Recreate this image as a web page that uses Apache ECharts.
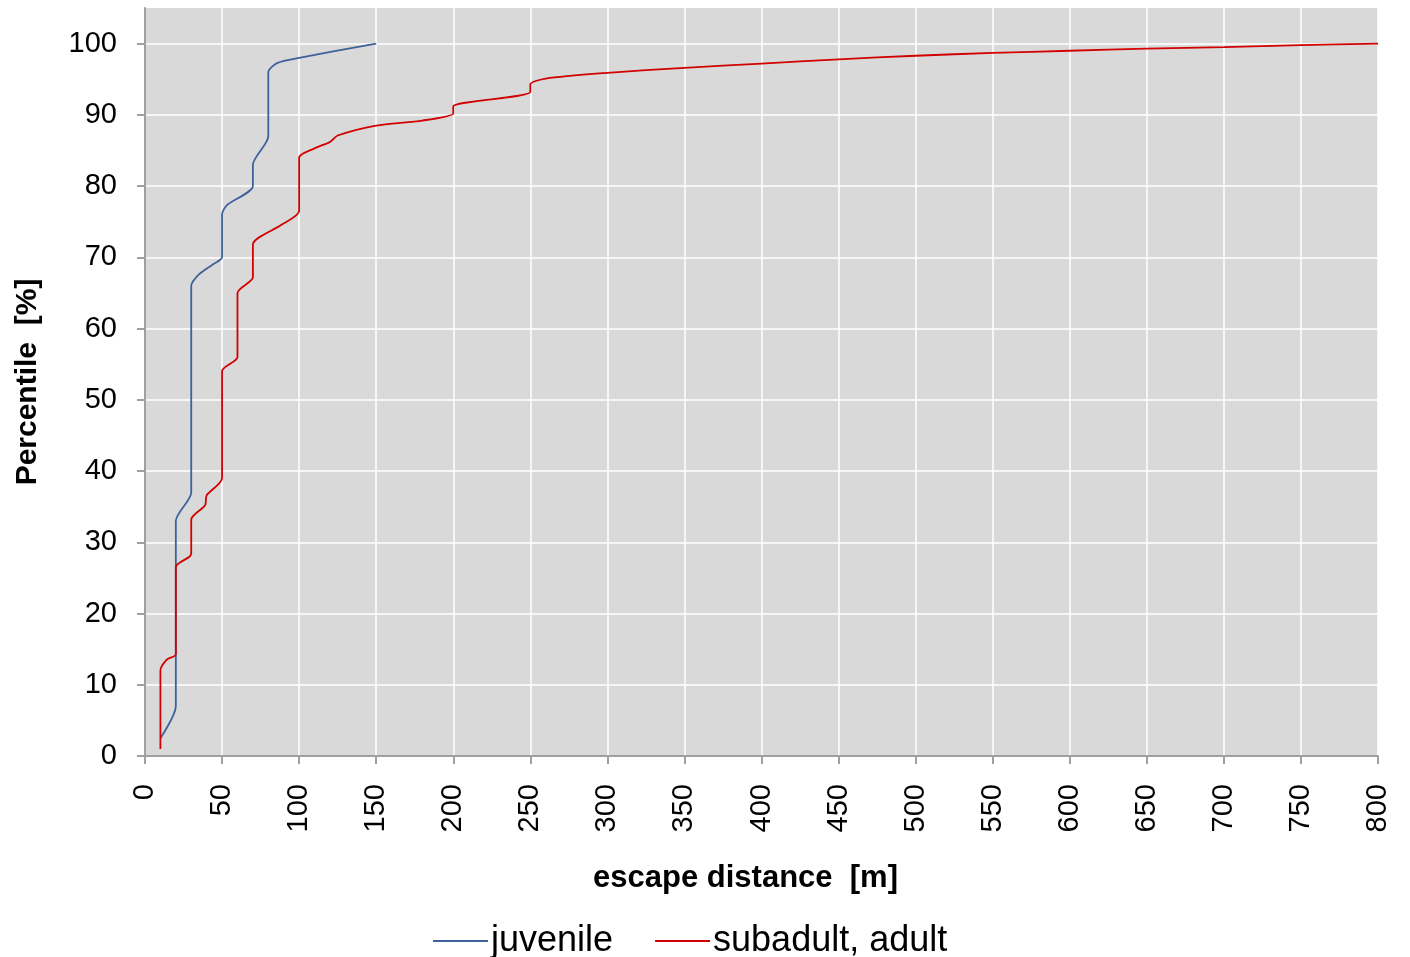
<!DOCTYPE html>
<html>
<head>
<meta charset="utf-8">
<script src="https://cdn.jsdelivr.net/npm/echarts@6/dist/echarts.min.js"></script>
<style>
html,body{margin:0;padding:0;background:#fff;}
#chart{width:1410px;height:957px;}
</style>
</head>
<body>
<div id="chart"></div>
<script>
// escape distance [m], percentile [%]
const juvenileX = [10, 20, 20, 30, 30, 35, 44, 50, 50, 53, 70, 70, 80, 80, 86, 100, 150];
const juvenileY = [2.5, 7, 33, 37, 66, 67.6, 69, 70, 76, 77.3, 80, 83, 87, 96, 97.3, 98, 100];

const adultX = [10, 10, 14, 20, 20, 29, 30, 30, 39, 40, 50, 50, 60, 60, 70, 70, 88, 100, 100, 110, 120, 125, 150, 180, 200, 200, 250, 250, 260, 300, 350, 400, 450, 500, 550, 600, 650, 700, 750, 800];
const adultY = [1, 12, 13.5, 14.3, 26.5, 28, 28.5, 33.2, 35.2, 36.6, 39, 54, 56, 65, 67.2, 71.8, 74.5, 76.5, 84, 85.3, 86.2, 87.1, 88.5, 89.2, 90.2, 91.2, 93.2, 94.3, 95.1, 95.9, 96.6, 97.2, 97.8, 98.3, 98.7, 99.0, 99.3, 99.5, 99.8, 100];

const seriesNames = ['juvenile', 'subadult, adult'];
const yTicks = [0, 10, 20, 30, 40, 50, 60, 70, 80, 90, 100];

const zip = (xs, ys) => xs.map((x, i) => [x, ys[i]]);
const FONT = 'Arial, "Liberation Sans", sans-serif';

const chart = echarts.init(document.getElementById('chart'));
chart.setOption({
  animation: false,
  backgroundColor: '#ffffff',
  grid: {
    left: 145, right: 32, top: 8, bottom: 201,
    show: true, backgroundColor: '#d9d9d9', borderWidth: 0
  },
  legend: {
    data: seriesNames,
    left: 428, top: 918,
    icon: 'rect', itemWidth: 55, itemHeight: 2, itemGap: 42,
    textStyle: { fontFamily: FONT, fontSize: 36, color: '#000', padding: [0, 0, 0, -2] }
  },
  xAxis: {
    type: 'value', min: 0, max: 800, interval: 50,
    name: 'escape distance  [m]', nameLocation: 'middle', nameGap: 107,
    nameTextStyle: { fontFamily: FONT, fontSize: 31, fontWeight: 'bold', color: '#000', padding: [0, 32, 0, 0] },
    axisLine: { show: true, lineStyle: { color: '#a0a0a0', width: 2 } },
    axisTick: { show: true, length: 8, lineStyle: { color: '#a0a0a0', width: 2 } },
    axisLabel: { rotate: 90, margin: 28, fontFamily: FONT, fontSize: 29, color: '#000' },
    splitLine: { show: true, lineStyle: { color: '#ffffff', width: 1.5 } }
  },
  yAxis: {
    type: 'value', min: 0, max: 105, interval: 10,
    name: 'Percentile  [%]', nameLocation: 'middle', nameGap: 102,
    nameTextStyle: { fontFamily: FONT, fontSize: 30, fontWeight: 'bold', color: '#000' },
    axisLine: { show: true, lineStyle: { color: '#a0a0a0', width: 2 } },
    axisTick: { show: true, length: 8, customValues: yTicks, lineStyle: { color: '#a0a0a0', width: 2 } },
    axisLabel: { margin: 28, customValues: yTicks, fontFamily: FONT, fontSize: 29, color: '#000' },
    splitLine: { show: true, lineStyle: { color: '#ffffff', width: 1.5 } }
  },
  series: [
    {
      name: seriesNames[0], type: 'line', data: zip(juvenileX, juvenileY),
      symbol: 'none', smooth: 0.25,
      lineStyle: { color: '#3d629a', width: 1.8 }, itemStyle: { color: '#3d629a' }
    },
    {
      name: seriesNames[1], type: 'line', data: zip(adultX, adultY),
      symbol: 'none', smooth: 0.25,
      lineStyle: { color: '#d20000', width: 1.8 }, itemStyle: { color: '#d20000' }
    }
  ]
});
</script>
</body>
</html>
